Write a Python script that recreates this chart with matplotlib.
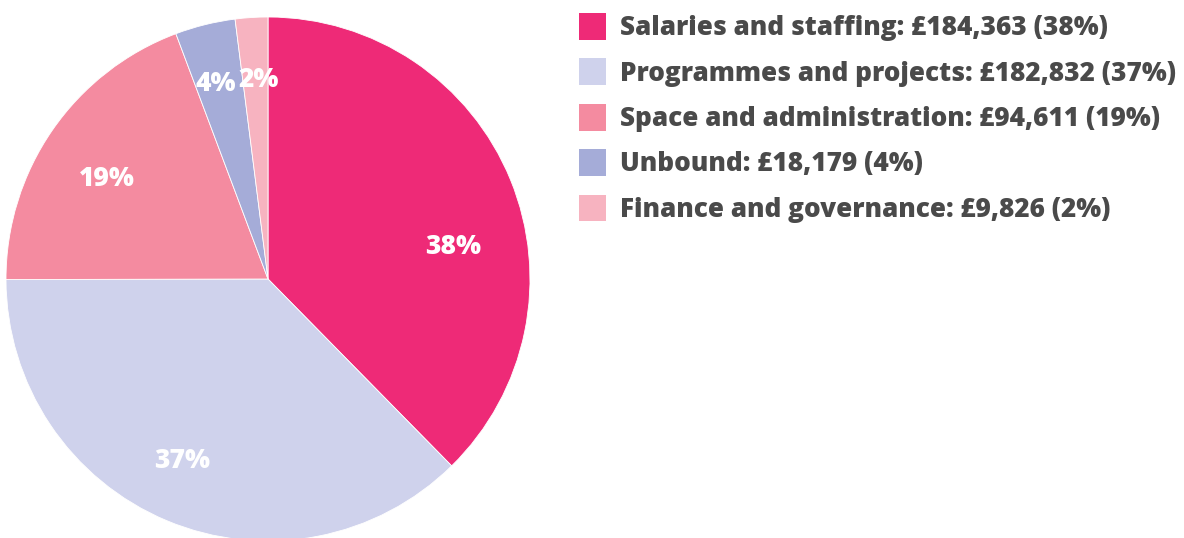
import numpy as np
import matplotlib
matplotlib.use("Agg")
import matplotlib.pyplot as plt

plt.rcParams['font.family'] = ['Open Sans', 'DejaVu Sans']

categories = ["Salaries and staffing", "Programmes and projects",
              "Space and administration", "Unbound", "Finance and governance"]
amounts = [184363, 182832, 94611, 18179, 9826]
colors = ["#ee2a77", "#cfd2ec", "#f48ba0", "#a5acd8", "#f7b3c0"]
text_col = "#4a4a4a"

total = sum(amounts)
pcts = [a / total * 100 for a in amounts]

fig = plt.figure(figsize=(11.84, 5.38), dpi=100)
# pie axes: centre (268, 279) px, radius 262 px
ax = fig.add_axes([6 / 1184, (538 - 279 - 262) / 538, 524 / 1184, 524 / 538])
wedges, _ = ax.pie(amounts, colors=colors, startangle=90, counterclock=False,
                   radius=1, wedgeprops=dict(linewidth=0.6, edgecolor="white"))
ax.set_xlim(-1, 1)
ax.set_ylim(-1, 1)
ax.set_aspect("equal")
ax.axis("off")

# percentage labels on the wedges
label_dist = [0.72, 0.76, 0.73, 0.78, 0.77]
angle_shift = [-11.5, -3, 2, 1, -1]
for w, p, d, s in zip(wedges, pcts, label_dist, angle_shift):
    ang = np.deg2rad((w.theta1 + w.theta2) / 2 + s)
    ax.text(d * np.cos(ang), d * np.sin(ang) - 0.011, "{:.0f}%".format(p),
            ha="center", va="center", color="white", fontsize=19, fontweight=800)

labels = ["{}: £{:,} ({:.0f}%)".format(c, a, p) for c, a, p in zip(categories, amounts, pcts)]
leg = fig.legend(wedges, labels, loc="upper left", bbox_to_anchor=(579 / 1184, 1 - 13 / 538),
                 frameon=False, fontsize=18.8, handlelength=1.05, handleheight=1.2,
                 handletextpad=0.52, labelspacing=0.66, borderpad=0, borderaxespad=0)
for t in leg.get_texts():
    t.set_color(text_col)
    t.set_fontweight(800)
for h in leg.legend_handles:
    h.set_linewidth(0)

fig.savefig("out.png", dpi=100)
